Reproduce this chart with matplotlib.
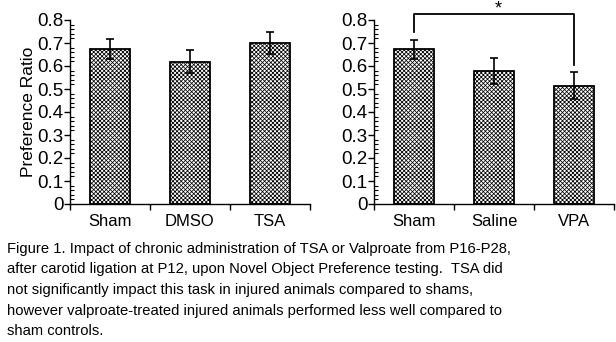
import matplotlib
matplotlib.use('Agg')
import matplotlib.pyplot as plt
from matplotlib.ticker import MultipleLocator

plt.rcParams['font.family'] = 'Liberation Sans'
plt.rcParams['hatch.linewidth'] = 0.55
plt.rcParams['hatch.color'] = '#7a7a7a'

left_groups = ['Sham', 'DMSO', 'TSA']
left_means = [0.674, 0.619, 0.700]
left_errs = [0.045, 0.050, 0.047]

right_groups = ['Sham', 'Saline', 'VPA']
right_means = [0.672, 0.578, 0.515]
right_errs = [0.043, 0.058, 0.060]

yticks = [0, 0.1, 0.2, 0.3, 0.4, 0.5, 0.6, 0.7, 0.8]
ytick_labels = ['0', '0.1', '0.2', '0.3', '0.4', '0.5', '0.6', '0.7', '0.8']

caption = [
    'Figure 1. Impact of chronic administration of TSA or Valproate from P16-P28,',
    'after carotid ligation at P12, upon Novel Object Preference testing.  TSA did',
    'not significantly impact this task in injured animals compared to shams,',
    'however valproate-treated injured animals performed less well compared to',
    'sham controls.',
]

W, H = 616, 342
fig = plt.figure(figsize=(W / 100, H / 100), dpi=100)
ax1 = fig.add_axes([70 / W, 1 - 204 / H, 240 / W, 184 / H])
ax2 = fig.add_axes([374 / W, 1 - 204 / H, 240 / W, 184 / H])


def draw_panel(ax, groups, means, errs):
    x = range(len(groups))
    ax.bar(x, means, width=0.5, color='white', edgecolor='black', linewidth=1.3,
           hatch='xxxxxxxx', zorder=2)
    ax.errorbar(x, means, yerr=errs, fmt='none', ecolor='black', elinewidth=1.2,
                capsize=3, capthick=1.2, zorder=3)
    ax.set_xlim(-0.5, len(groups) - 0.5)
    ax.set_ylim(0, 0.8)
    ax.spines['top'].set_visible(False)
    ax.spines['right'].set_visible(False)
    ax.spines['left'].set_linewidth(1.0)
    ax.spines['bottom'].set_linewidth(1.0)
    ax.set_yticks(yticks)
    ax.set_yticklabels(ytick_labels)
    ax.yaxis.set_minor_locator(MultipleLocator(0.02))
    ax.tick_params(axis='y', which='major', direction='out', length=4, width=1,
                   labelsize=13.5, pad=0.5)
    ax.tick_params(axis='y', which='minor', direction='in', length=3, width=0.8)
    # category ticks sit between the bars
    ax.set_xticks([i - 0.5 for i in range(len(groups) + 1)], minor=False)
    ax.set_xticklabels([''] * (len(groups) + 1))
    ax.set_xticks(list(x), minor=True)
    ax.set_xticklabels(groups, minor=True)
    ax.tick_params(axis='x', which='major', direction='out', length=4, width=1)
    ax.tick_params(axis='x', which='minor', length=0, labelsize=12, pad=7)


draw_panel(ax1, left_groups, left_means, left_errs)
draw_panel(ax2, right_groups, right_means, right_errs)
ax1.set_ylabel('Preference Ratio', fontsize=12.5)
ax1.yaxis.set_label_coords(-0.14, 0.5)

# significance bracket Sham vs VPA
ax2.plot([0, 0, 2, 2], [0.748, 0.826, 0.826, 0.604], color='black', lw=1.3,
         clip_on=False)
ax2.text(1.05, 0.83, '*', ha='center', va='baseline', fontsize=13, clip_on=False)

for i, line in enumerate(caption):
    fig.text(7 / W, 1 - (242 + i * 20.5) / H, line, ha='left', va='top', fontsize=10.6)

fig.savefig('out.png', dpi=100)
